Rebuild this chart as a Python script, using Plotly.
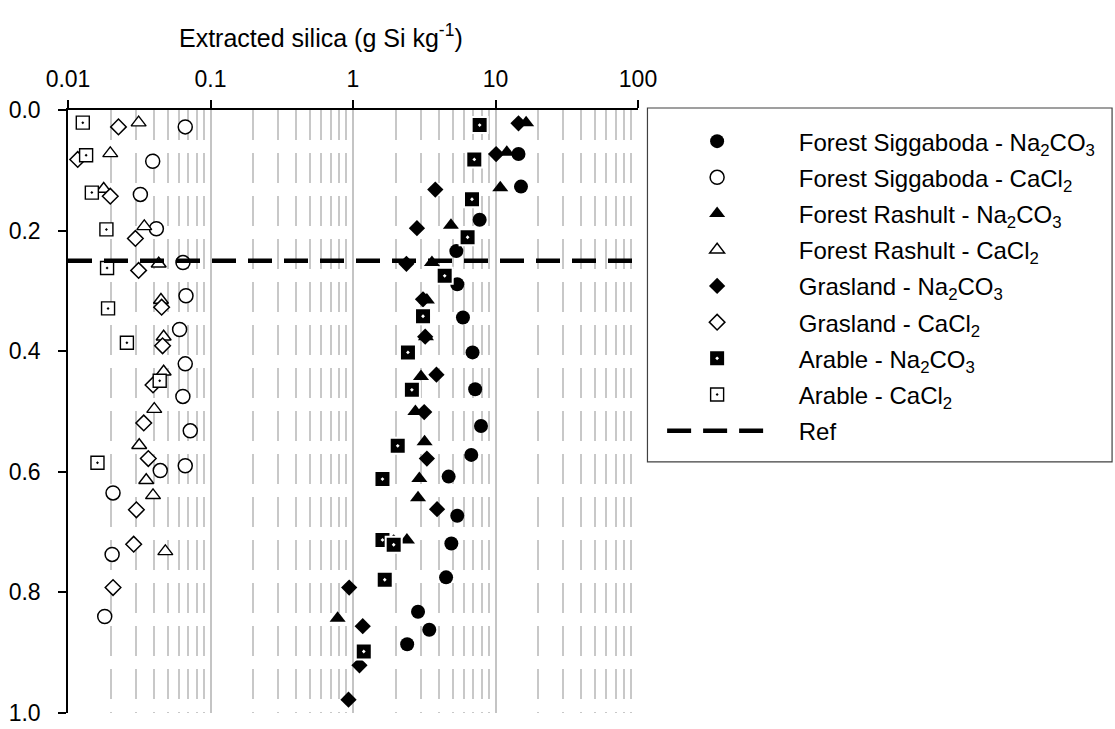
import math
import plotly.graph_objects as go

# Extracted Si (g Si kg-1) against sampling depth (m) per site and extractant
sig_na_si = [14.5, 15.1, 7.74, 5.31, 5.39, 5.91, 6.9, 7.2, 7.91, 6.76, 4.69, 5.39, 4.9, 4.5, 2.86, 3.43, 2.4]
sig_na_depth = [0.073, 0.127, 0.182, 0.234, 0.289, 0.344, 0.402, 0.463, 0.524, 0.572, 0.608, 0.673, 0.719, 0.775, 0.832, 0.862, 0.886]

sig_ca_si = [0.0665, 0.0393, 0.0322, 0.0417, 0.0641, 0.0673, 0.0607, 0.0665, 0.064, 0.0721, 0.0665, 0.0444, 0.0207, 0.0204, 0.0181]
sig_ca_depth = [0.028, 0.085, 0.140, 0.197, 0.253, 0.308, 0.364, 0.421, 0.475, 0.532, 0.590, 0.598, 0.635, 0.737, 0.840]

ras_na_si = [16.4, 12.0, 10.8, 4.87, 3.58, 3.3, 3.25, 3.0, 2.74, 3.18, 2.92, 2.86, 2.39, 0.78]
ras_na_depth = [0.021, 0.070, 0.129, 0.191, 0.253, 0.315, 0.376, 0.442, 0.500, 0.550, 0.611, 0.643, 0.713, 0.843]

ras_ca_si = [0.0313, 0.0198, 0.0178, 0.0343, 0.0433, 0.0449, 0.0469, 0.0469, 0.0403, 0.0316, 0.0354, 0.0395, 0.0482]
ras_ca_depth = [0.021, 0.072, 0.131, 0.193, 0.255, 0.315, 0.376, 0.434, 0.496, 0.556, 0.614, 0.639, 0.732]

gra_na_si = [14.5, 10.1, 3.78, 2.81, 2.37, 3.1, 3.21, 3.85, 3.16, 3.3, 3.89, 1.93, 0.94, 1.17, 1.11, 0.93]
gra_na_depth = [0.022, 0.073, 0.132, 0.196, 0.255, 0.314, 0.376, 0.439, 0.501, 0.578, 0.662, 0.717, 0.792, 0.856, 0.921, 0.978]

gra_ca_si = [0.0226, 0.0117, 0.0198, 0.0297, 0.0313, 0.0454, 0.0461, 0.0395, 0.034, 0.0366, 0.0302, 0.0289, 0.0207]
gra_ca_depth = [0.028, 0.082, 0.143, 0.213, 0.266, 0.327, 0.391, 0.456, 0.519, 0.578, 0.663, 0.720, 0.792]

ara_na_si = [7.74, 7.1, 6.84, 6.37, 4.4, 3.1, 2.43, 2.59, 2.06, 1.61, 1.61, 1.93, 1.67, 1.19]
ara_na_depth = [0.025, 0.082, 0.148, 0.211, 0.275, 0.342, 0.402, 0.464, 0.557, 0.612, 0.713, 0.721, 0.779, 0.898]

ara_ca_si = [0.0127, 0.0134, 0.0147, 0.0186, 0.0188, 0.0191, 0.0259, 0.044, 0.0161]
ara_ca_depth = [0.021, 0.075, 0.137, 0.198, 0.262, 0.329, 0.386, 0.449, 0.585]

ref_depth = 0.25
x_ticks = [0.01, 0.1, 1, 10, 100]
x_tick_text = ["0.01", "0.1", "1", "10", "100"]
y_ticks = [0.0, 0.2, 0.4, 0.6, 0.8, 1.0]

FONT = "Liberation Sans, Arial, sans-serif"
BLACK = "#000000"
WHITE = "#ffffff"
PAD = "\u00a0" * 4  # gap between legend symbol and label

series = [
    ("Forest Siggaboda - Na<sub>2</sub>CO<sub>3</sub>", sig_na_si, sig_na_depth,
     dict(symbol="circle", size=14, color=BLACK, line=dict(width=0))),
    ("Forest Siggaboda - CaCl<sub>2</sub>", sig_ca_si, sig_ca_depth,
     dict(symbol="circle", size=14, color=WHITE, line=dict(color=BLACK, width=1.5))),
    ("Forest Rashult - Na<sub>2</sub>CO<sub>3</sub>", ras_na_si, ras_na_depth,
     dict(symbol="triangle-up", size=14, color=BLACK, line=dict(width=0))),
    ("Forest Rashult - CaCl<sub>2</sub>", ras_ca_si, ras_ca_depth,
     dict(symbol="triangle-up", size=13, color=WHITE, line=dict(color=BLACK, width=1.4))),
    ("Grasland - Na<sub>2</sub>CO<sub>3</sub>", gra_na_si, gra_na_depth,
     dict(symbol="diamond", size=12.5, color=BLACK, line=dict(width=0))),
    ("Grasland - CaCl<sub>2</sub>", gra_ca_si, gra_ca_depth,
     dict(symbol="diamond", size=12, color=WHITE, line=dict(color=BLACK, width=1.5))),
    ("Arable - Na<sub>2</sub>CO<sub>3</sub>", ara_na_si, ara_na_depth,
     dict(symbol="square-dot", size=16, color=BLACK, line=dict(color=WHITE, width=2))),
    ("Arable - CaCl<sub>2</sub>", ara_ca_si, ara_ca_depth,
     dict(symbol="square-dot", size=13, color=WHITE, line=dict(color=BLACK, width=1.4))),
]

fig = go.Figure()

for i, (name, xs, ys, marker) in enumerate(series):
    fig.add_trace(go.Scatter(
        x=xs, y=ys, mode="markers", name=PAD + name, marker=marker,
        legendgroup=f"g{i}", cliponaxis=False,
    ))

# horizontal reference depth across the full axis range
fig.add_trace(go.Scatter(
    x=[x_ticks[0], x_ticks[-1]], y=[ref_depth, ref_depth], mode="lines",
    name=PAD + "Ref", legendgroup="ref",
    line=dict(color=BLACK, width=4.5, dash="24px,12px"),
))

fig.update_layout(
    width=1115, height=729,
    margin=dict(l=68, r=477, t=110, b=16, autoexpand=False),
    paper_bgcolor=WHITE, plot_bgcolor=WHITE,
    font=dict(family=FONT, size=23, color=BLACK),
    showlegend=True,
    legend=dict(
        x=1.016, y=0.985, xanchor="left", yanchor="top",
        borderwidth=0, bgcolor="rgba(0,0,0,0)",
        font=dict(family=FONT, size=24, color=BLACK),
        itemwidth=100, indentation=15, tracegroupgap=2,
        itemsizing="trace",
    ),
    shapes=[dict(
        type="rect", xref="paper", yref="paper",
        x0=1.0166, x1=1.8317, y0=0.4163, y1=1.0033,
        line=dict(color="#404040", width=1.2), fillcolor="rgba(0,0,0,0)",
        layer="below",
    )],
    annotations=[dict(
        text="Extracted silica (g Si kg<sup>-1</sup>)",
        xref="paper", yref="paper", x=0.443, y=1.123,
        xanchor="center", yanchor="middle", showarrow=False,
        font=dict(family=FONT, size=25, color=BLACK),
    )],
)

fig.update_xaxes(
    type="log", range=[-2, 2], side="top",
    showline=True, linecolor=BLACK, linewidth=1.5,
    ticks="outside", ticklen=8, tickwidth=1.5, tickcolor=BLACK,
    tickvals=x_ticks, ticktext=x_tick_text, ticklabelstandoff=4,
    tickfont=dict(family=FONT, size=23, color=BLACK),
    showgrid=True, gridcolor="#c4c4c4", gridwidth=2,
    minor=dict(dtick="D1", showgrid=True, gridcolor="#c8c8c8", gridwidth=1.5,
               griddash="30px,13px", ticks=""),
    zeroline=False,
)

fig.update_yaxes(
    range=[1, 0],
    showline=True, linecolor=BLACK, linewidth=1.5,
    ticks="outside", ticklen=8, tickwidth=1.5, tickcolor=BLACK,
    tickvals=y_ticks, tickformat=".1f", ticklabelstandoff=13,
    tickfont=dict(family=FONT, size=23, color=BLACK),
    showgrid=False, zeroline=False,
)

fig.write_html("out.html")
